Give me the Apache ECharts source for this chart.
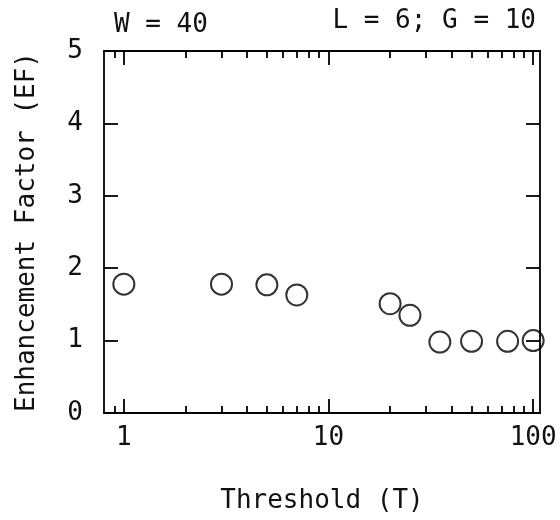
<!DOCTYPE html>
<html><head><meta charset="utf-8">
<script src="https://cdn.jsdelivr.net/npm/echarts@6/dist/echarts.min.js"></script>
<style>html,body{margin:0;padding:0;background:#fff}#c{width:560px;height:520px}</style>
</head><body><div id="c"></div>
<script>
// ---- data ----
const thresholds = [1, 3, 5, 7, 20, 25, 35, 50, 75, 100];
const enhancement = [1.78, 1.78, 1.77, 1.63, 1.51, 1.35, 0.98, 0.99, 0.99, 1.0];
const xMajorTicks = [1, 10, 100];
const xMinorTicks = [0.9, 2, 3, 4, 5, 6, 7, 8, 9, 20, 30, 40, 50, 60, 70, 80, 90];
const xTickLabels = [1, 10, 100];
const yTickLabels = [0, 1, 2, 3, 4, 5];
const xTitle = 'Threshold (T)';
const yTitle = 'Enhancement Factor (EF)';
const noteLeft = 'W = 40';
const noteRight = 'L = 6; G = 10';

const FONT = 'DejaVu Sans Mono';
const FS = 26;
const INK = '#111';
const lineStyle = { color: '#000', width: 1.8 };

function xAxis(position, ticks, len, withLabels) {
  const ax = {
    type: 'log', logBase: 10, min: 0.8, max: 108, position: position,
    axisLine: { show: true, onZero: false, lineStyle: lineStyle },
    axisTick: { show: true, inside: true, length: len, customValues: ticks, lineStyle: lineStyle },
    axisLabel: { show: false },
    splitLine: { show: false }, minorTick: { show: false }, minorSplitLine: { show: false }
  };
  if (withLabels) {
    ax.axisLabel = { show: true, customValues: xTickLabels, margin: 12,
      fontFamily: FONT, fontSize: FS, color: INK, formatter: v => String(v) };
    ax.name = xTitle; ax.nameLocation = 'middle'; ax.nameGap = 75;
    ax.nameTextStyle = { fontFamily: FONT, fontSize: FS, color: INK };
  }
  return ax;
}
function yAxis(position, withLabels) {
  const ax = {
    type: 'value', min: 0, max: 5, interval: 1, position: position,
    axisLine: { show: true, onZero: false, lineStyle: lineStyle },
    axisTick: { show: true, inside: true, length: 14, lineStyle: lineStyle },
    axisLabel: { show: false }, splitLine: { show: false }
  };
  if (withLabels) {
    ax.axisLabel = { show: true, margin: 21, fontFamily: FONT, fontSize: FS, color: INK,
      customValues: yTickLabels };
    ax.name = yTitle; ax.nameLocation = 'middle'; ax.nameGap = 64;
    ax.nameTextStyle = { fontFamily: FONT, fontSize: FS, color: INK };
  }
  return ax;
}

const chart = echarts.init(document.getElementById('c'), null, { renderer: 'canvas' });
chart.setOption({
  backgroundColor: '#fff',
  animation: false,
  grid: { left: 104, right: 20, top: 51, bottom: 107, containLabel: false },
  xAxis: [
    xAxis('bottom', xMajorTicks, 14, true),
    xAxis('bottom', xMinorTicks, 7, false),
    xAxis('top', xMajorTicks, 14, false),
    xAxis('top', xMinorTicks, 7, false)
  ],
  yAxis: [ yAxis('left', true), yAxis('right', false) ],
  graphic: [
    { type: 'text', left: 114, top: 12, style: { text: noteLeft, font: FS + 'px "' + FONT + '"', fill: INK } },
    { type: 'text', right: 24, top: 8, style: { text: noteRight, font: FS + 'px "' + FONT + '"', fill: INK } }
  ],
  series: [{
    type: 'scatter', xAxisIndex: 0, yAxisIndex: 0,
    data: thresholds.map((t, i) => [t, enhancement[i]]),
    symbol: 'circle', symbolSize: 21,
    itemStyle: { color: 'rgba(0,0,0,0)', borderColor: '#000', borderWidth: 2 },
    z: 5
  }]
});
</script></body></html>
